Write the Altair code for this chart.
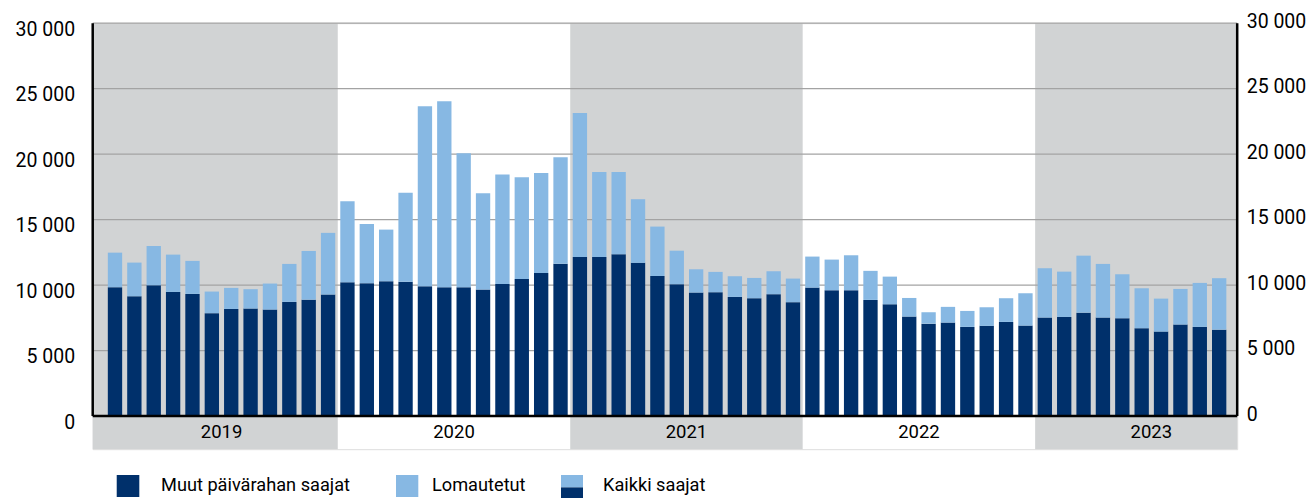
import altair as alt
import pandas as pd

# ---- data ----
years = [2019, 2020, 2021, 2022, 2023]
months_per_year = [12, 12, 12, 12, 10]
muut = [9840, 9150, 9990, 9480, 9330, 7860, 8180, 8210, 8130, 8720, 8890, 9280,
        10220, 10150, 10300, 10250, 9920, 9840, 9840, 9660, 10090, 10470, 10930, 11640,
        12150, 12150, 12360, 11700, 10700, 10070, 9430, 9460, 9100, 9000, 9310, 8700,
        9810, 9610, 9610, 8870, 8540, 7600, 7060, 7140, 6810, 6890, 7190, 6910,
        7520, 7570, 7900, 7520, 7470, 6710, 6450, 6990, 6810, 6600]
kaikki = [12480, 11720, 12990, 12330, 11850, 9510, 9790, 9690, 10120, 11620, 12610, 13990,
          16410, 14670, 14240, 17060, 23660, 24040, 20070, 17020, 18440, 18240, 18570, 19760,
          23150, 18640, 18640, 16560, 14470, 12630, 11210, 11010, 10680, 10550, 11060, 10500,
          12180, 11950, 12280, 11090, 10650, 9020, 7930, 8340, 8030, 8310, 9000, 9380,
          11290, 11030, 12250, 11620, 10830, 9760, 8970, 9710, 10170, 10530]
tick_values = [0, 5000, 10000, 15000, 20000, 25000, 30000]
series = ["Muut päivärahan saajat", "Lomautetut"]
legend_labels = ["Muut päivärahan saajat", "Lomautetut", "Kaikki saajat"]

DARK = "#00306b"
LIGHT = "#87b8e3"
BAND = "#d1d3d4"
GRID = "#a3a3a3"
FONT = "Roboto"

W, H = 1144.5, 426
XMIN, XMAX = -1.15, 57.93
YMIN, YMAX = -2527, 30000
xscale = alt.Scale(domain=[XMIN, XMAX], nice=False, zero=False)
yscale = alt.Scale(domain=[YMIN, YMAX], nice=False, zero=False)

# ---- tables ----
rows = []
idx = 0
for y, n in zip(years, months_per_year):
    for m in range(n):
        rows.append({"i": idx, "year": y, "month": m + 1})
        idx += 1
base = pd.DataFrame(rows)
base["muut"] = muut
base["kaikki"] = kaikki

bars = []
for _, r in base.iterrows():
    bars.append({"i": r["i"], "xa": r["i"] - 0.37, "xb": r["i"] + 0.37,
                 "s": series[0], "y0": 0, "y1": r["muut"]})
    bars.append({"i": r["i"], "xa": r["i"] - 0.37, "xb": r["i"] + 0.37,
                 "s": series[1], "y0": r["muut"], "y1": r["kaikki"]})
bars = pd.DataFrame(bars)

yr = []
start = 0
last = len(years) - 1
for k, (y, n) in enumerate(zip(years, months_per_year)):
    yr.append({"year": str(y),
               "a": XMIN if k == 0 else start - 0.5,
               "b": XMAX if k == last else start + n - 0.5,
               "mid": start + 5.5,
               "shade": k % 2 == 0})
    start += n
yr = pd.DataFrame(yr)

fmt = "replace(format(datum.value, ','), ',', ' ')"

bands = alt.Chart(yr[yr["shade"]]).mark_rect(color=BAND).encode(
    x=alt.X("a:Q", scale=xscale, axis=None),
    x2="b:Q",
    y=alt.value(0), y2=alt.value(H),
)

grid = alt.Chart(pd.DataFrame({"v": tick_values})).mark_rule(
    color=GRID, strokeWidth=1.2).encode(
    y=alt.Y("v:Q", scale=yscale, axis=alt.Axis(
        orient="right", values=tick_values, labelExpr=fmt, domain=False,
        ticks=False, tickSize=0, grid=False, labelPadding=9, labelOffset=-2,
        labelFont=FONT, labelFontSize=19.5, labelColor="#000", title=None)),
)

barl = alt.Chart(bars).mark_rect().encode(
    x=alt.X("xa:Q", scale=xscale, axis=None),
    x2="xb:Q",
    y=alt.Y("y0:Q", scale=yscale, axis=alt.Axis(
        orient="left", values=tick_values, labelExpr=fmt, domain=False,
        ticks=False, tickSize=0, grid=False, labelPadding=18, labelOffset=6,
        labelFont=FONT, labelFontSize=19.5, labelColor="#000", title=None)),
    y2="y1:Q",
    color=alt.Color("s:N", scale=alt.Scale(domain=series, range=[DARK, LIGHT]),
                    legend=None),
)

axis_h = alt.Chart(pd.DataFrame({"v": [0]})).mark_rule(
    color="#000", strokeWidth=2.5).encode(
    y=alt.Y("v:Q", scale=yscale, axis=None),
    x=alt.value(0), x2=alt.value(W),
)
axis_v = alt.Chart(pd.DataFrame({"px": [0, W], "a": [0, 0], "b": [30000, 30000]})).mark_rule(
    color="#000", strokeWidth=2.5).encode(
    x=alt.X("px:Q", scale=None),
    y=alt.Y("a:Q", scale=yscale, axis=None),
    y2="b:Q",
)

year_text = alt.Chart(yr.assign(ty=-1250)).mark_text(
    font=FONT, fontSize=18.5, color="#000", baseline="middle", align="center").encode(
    x=alt.X("mid:Q", scale=xscale, axis=None),
    y=alt.Y("ty:Q", scale=yscale, axis=None),
    text="year:N",
)

# ---- manual legend (pixel layout below the plot) ----
leg_rects = pd.DataFrame([
    {"x0": 24, "x1": 46.6, "y0": 451.8, "y1": 473.8, "c": DARK},
    {"x0": 303.3, "x1": 325.6, "y0": 451.8, "y1": 473.8, "c": LIGHT},
    {"x0": 468.3, "x1": 490.3, "y0": 451.8, "y1": 464.2, "c": LIGHT},
    {"x0": 468.3, "x1": 490.3, "y0": 464.2, "y1": 475.8, "c": DARK},
])
leg_text = pd.DataFrame({"x": [68.3, 339.3, 510.3], "y": [463, 463, 463],
                         "t": legend_labels})

legend_r = alt.Chart(leg_rects).mark_rect().encode(
    x=alt.X("x0:Q", scale=None), x2="x1:Q",
    y=alt.Y("y0:Q", scale=None), y2="y1:Q",
    color=alt.Color("c:N", scale=None),
)
legend_t = alt.Chart(leg_text).mark_text(
    font=FONT, fontSize=18.2, color="#000", align="left", baseline="middle").encode(
    x=alt.X("x:Q", scale=None), y=alt.Y("y:Q", scale=None), text="t:N",
)

chart = alt.layer(
    bands, grid, barl, axis_h, axis_v, year_text, legend_r, legend_t
).resolve_scale(y="shared", x="shared").resolve_axis(y="independent").properties(
    width=W, height=H,
    autosize=alt.AutoSizeParams(type="none"),
    padding={"left": 84.7, "top": 15.2, "right": 68.8, "bottom": 50},
).configure_view(stroke=None).configure(background="white")

chart.save("out.html", embed_options={"renderer": "svg", "actions": False})
